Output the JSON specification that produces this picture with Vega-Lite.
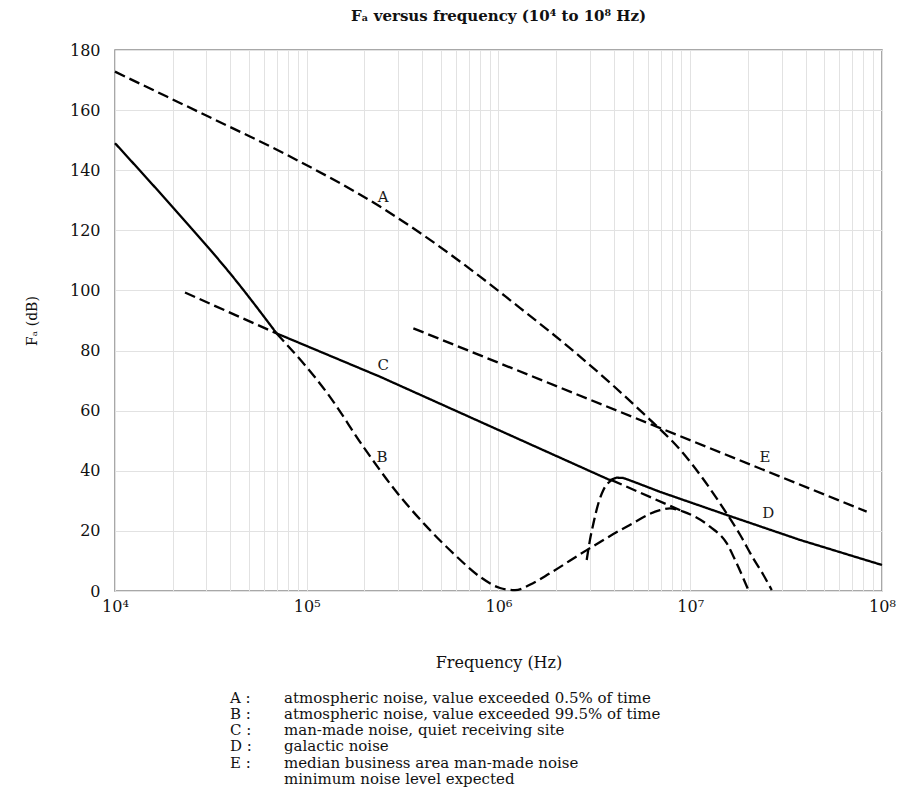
{
  "$schema": "https://vega.github.io/schema/vega-lite/v6.json",
  "width": 767,
  "height": 541,
  "autosize": {"type": "none"},
  "padding": {"left": 115, "top": 50, "right": 25, "bottom": 218},
  "background": "white",
  "config": {
    "font": "DejaVu Serif",
    "view": {"stroke": "#8c8c8c", "strokeWidth": 1.5},
    "legend": {"symbolOpacity": 0, "symbolSize": 0, "symbolStrokeWidth": 0, "labelFontSize": 15, "labelLimit": 800, "labelColor": "#111", "rowPadding": 0.3, "padding": 0, "labelOffset": 0}
  },
  "title": {"text": "Fₐ versus frequency (10⁴ to 10⁸ Hz)", "fontSize": 15, "fontWeight": "bold", "font": "DejaVu Serif", "offset": 18, "color": "#111"},
  "datasets": {
    "curves": [
      {"f": 10000, "db": 149.0, "key": "M", "seg": "M1", "style": "solid", "interp": "smooth"},
      {"f": 24604, "db": 121.2, "key": "M", "seg": "M1", "style": "solid", "interp": "smooth"},
      {"f": 39811, "db": 105.7, "key": "M", "seg": "M1", "style": "solid", "interp": "smooth"},
      {"f": 69663, "db": 85.7, "key": "M", "seg": "M1", "style": "solid", "interp": "smooth"},

      {"f": 69663, "db": 85.7, "key": "M", "seg": "M2", "style": "solid", "interp": "straight"},
      {"f": 240991, "db": 71.3, "key": "M", "seg": "M2", "style": "solid", "interp": "straight"},
      {"f": 3810978, "db": 36.9, "key": "M", "seg": "M2", "style": "solid", "interp": "straight"},
      {"f": 4130475, "db": 37.7, "key": "M", "seg": "M2", "style": "solid", "interp": "straight"},
      {"f": 4477133, "db": 37.6, "key": "M", "seg": "M2", "style": "solid", "interp": "straight"},
      {"f": 5046612, "db": 36.4, "key": "M", "seg": "M2", "style": "solid", "interp": "straight"},
      {"f": 6950243, "db": 33.0, "key": "M", "seg": "M2", "style": "solid", "interp": "straight"},
      {"f": 15488166, "db": 25.3, "key": "M", "seg": "M2", "style": "solid", "interp": "straight"},
      {"f": 37325000, "db": 17.0, "key": "M", "seg": "M2", "style": "solid", "interp": "straight"},
      {"f": 100000000, "db": 8.65, "key": "M", "seg": "M2", "style": "solid", "interp": "straight"},

      {"f": 10000, "db": 172.8, "key": "A", "seg": "A", "style": "dashed", "interp": "smooth"},
      {"f": 18621, "db": 164.5, "key": "A", "seg": "A", "style": "dashed", "interp": "smooth"},
      {"f": 31261, "db": 157.6, "key": "A", "seg": "A", "style": "dashed", "interp": "smooth"},
      {"f": 85114, "db": 144.0, "key": "A", "seg": "A", "style": "dashed", "interp": "smooth"},
      {"f": 240991, "db": 127.9, "key": "A", "seg": "A", "style": "dashed", "interp": "smooth"},
      {"f": 801678, "db": 104.6, "key": "A", "seg": "A", "style": "dashed", "interp": "smooth"},
      {"f": 1148154, "db": 96.8, "key": "A", "seg": "A", "style": "dashed", "interp": "smooth"},
      {"f": 2660725, "db": 78.0, "key": "A", "seg": "A", "style": "dashed", "interp": "smooth"},
      {"f": 3953666, "db": 68.4, "key": "A", "seg": "A", "style": "dashed", "interp": "smooth"},
      {"f": 5929253, "db": 58.0, "key": "A", "seg": "A", "style": "dashed", "interp": "smooth"},
      {"f": 8851156, "db": 47.0, "key": "A", "seg": "A", "style": "dashed", "interp": "smooth"},
      {"f": 15488166, "db": 25.8, "key": "A", "seg": "A", "style": "dashed", "interp": "smooth"},
      {"f": 18155156, "db": 18.8, "key": "A", "seg": "A", "style": "dashed", "interp": "smooth"},
      {"f": 21330000, "db": 10.8, "key": "A", "seg": "A", "style": "dashed", "interp": "smooth"},
      {"f": 24040000, "db": 5.4, "key": "A", "seg": "A", "style": "dashed", "interp": "smooth"},
      {"f": 26607250, "db": 0.3, "key": "A", "seg": "A", "style": "dashed", "interp": "smooth"},

      {"f": 69663, "db": 85.7, "key": "B", "seg": "B", "style": "dashed", "interp": "smooth"},
      {"f": 132130, "db": 64.6, "key": "B", "seg": "B", "style": "dashed", "interp": "smooth"},
      {"f": 197242, "db": 48.0, "key": "B", "seg": "B", "style": "dashed", "interp": "smooth"},
      {"f": 288403, "db": 33.6, "key": "B", "seg": "B", "style": "dashed", "interp": "smooth"},
      {"f": 414000, "db": 22.0, "key": "B", "seg": "B", "style": "dashed", "interp": "smooth"},
      {"f": 592925, "db": 12.0, "key": "B", "seg": "B", "style": "dashed", "interp": "smooth"},
      {"f": 801678, "db": 4.7, "key": "B", "seg": "B", "style": "dashed", "interp": "smooth"},
      {"f": 1018591, "db": 1.0, "key": "B", "seg": "B", "style": "dashed", "interp": "smooth"},
      {"f": 1218900, "db": 0.3, "key": "B", "seg": "B", "style": "dashed", "interp": "smooth"},
      {"f": 1513561, "db": 2.6, "key": "B", "seg": "B", "style": "dashed", "interp": "smooth"},
      {"f": 1853532, "db": 5.9, "key": "B", "seg": "B", "style": "dashed", "interp": "smooth"},
      {"f": 2884032, "db": 13.6, "key": "B", "seg": "B", "style": "dashed", "interp": "smooth"},
      {"f": 4655860, "db": 21.4, "key": "B", "seg": "B", "style": "dashed", "interp": "smooth"},
      {"f": 6950243, "db": 26.9, "key": "B", "seg": "B", "style": "dashed", "interp": "smooth"},
      {"f": 7834296, "db": 27.5, "key": "B", "seg": "B", "style": "dashed", "interp": "smooth"},
      {"f": 9204496, "db": 26.4, "key": "B", "seg": "B", "style": "dashed", "interp": "smooth"},
      {"f": 12677000, "db": 21.4, "key": "B", "seg": "B", "style": "dashed", "interp": "smooth"},
      {"f": 15488166, "db": 15.9, "key": "B", "seg": "B", "style": "dashed", "interp": "smooth"},
      {"f": 17458222, "db": 9.2, "key": "B", "seg": "B", "style": "dashed", "interp": "smooth"},
      {"f": 20090000, "db": 0.3, "key": "B", "seg": "B", "style": "dashed", "interp": "smooth"},

      {"f": 23174, "db": 99.3, "key": "C", "seg": "C1", "style": "dashed", "interp": "straight"},
      {"f": 69663, "db": 85.7, "key": "C", "seg": "C1", "style": "dashed", "interp": "straight"},
      {"f": 3890451, "db": 36.9, "key": "C", "seg": "C2", "style": "dashed", "interp": "straight"},
      {"f": 9204496, "db": 26.4, "key": "C", "seg": "C2", "style": "dashed", "interp": "straight"},

      {"f": 2884032, "db": 10.3, "key": "D", "seg": "D", "style": "dashed", "interp": "smooth"},
      {"f": 2999162, "db": 17.0, "key": "D", "seg": "D", "style": "dashed", "interp": "smooth"},
      {"f": 3126079, "db": 22.5, "key": "D", "seg": "D", "style": "dashed", "interp": "smooth"},
      {"f": 3318945, "db": 29.2, "key": "D", "seg": "D", "style": "dashed", "interp": "smooth"},
      {"f": 3523709, "db": 33.6, "key": "D", "seg": "D", "style": "dashed", "interp": "smooth"},
      {"f": 3890451, "db": 36.9, "key": "D", "seg": "D", "style": "dashed", "interp": "smooth"},

      {"f": 359749, "db": 87.4, "key": "E", "seg": "E", "style": "dashed", "interp": "straight"},
      {"f": 83176377, "db": 26.4, "key": "E", "seg": "E", "style": "dashed", "interp": "straight"}
    ],
    "labels": [
      {"f": 250600, "db": 131.2, "label": "A"},
      {"f": 247000, "db": 44.6, "label": "B"},
      {"f": 250600, "db": 75.2, "label": "C"},
      {"f": 25530000, "db": 25.8, "label": "D"},
      {"f": 24500000, "db": 44.6, "label": "E"}
    ]
  },
  "layer": [
    {
      "data": {"name": "curves"},
      "transform": [{"filter": "datum.interp == 'straight'"}],
      "mark": {"type": "line", "strokeWidth": 2.3},
      "encoding": {
        "x": {
          "field": "f", "type": "quantitative",
          "scale": {"type": "log", "domain": [10000, 100000000]},
          "axis": {
            "values": [10000,20000,30000,40000,50000,60000,70000,80000,90000,100000,200000,300000,400000,500000,600000,700000,800000,900000,1000000,2000000,3000000,4000000,5000000,6000000,7000000,8000000,9000000,10000000,20000000,30000000,40000000,50000000,60000000,70000000,80000000,90000000,100000000],
            "labelExpr": "indexof([10000,100000,1000000,10000000,100000000], datum.value) >= 0 ? '10' + ['⁴','⁵','⁶','⁷','⁸'][indexof([10000,100000,1000000,10000000,100000000], datum.value)] : ''",
            "grid": true, "gridColor": "#e2e2e2", "gridWidth": 1,
            "ticks": false, "domain": false,
            "labelFontSize": 16, "labelPadding": 7, "labelOverlap": false, "labelFlush": false, "labelColor": "#111",
            "title": "Frequency (Hz)", "titleFontSize": 16, "titleFontWeight": "normal", "titlePadding": 40, "titleColor": "#111"
          }
        },
        "y": {
          "field": "db", "type": "quantitative",
          "scale": {"domain": [0, 180]},
          "axis": {
            "values": [0,20,40,60,80,100,120,140,160,180],
            "grid": true, "gridColor": "#e2e2e2", "gridWidth": 1,
            "ticks": false, "domain": false,
            "labelFontSize": 16, "labelPadding": 15, "labelColor": "#111",
            "title": "Fₐ (dB)", "titleFontSize": 14, "titleFontWeight": "normal", "titlePadding": 30, "titleColor": "#111"
          }
        },
        "color": {
          "field": "key", "type": "nominal",
          "scale": {"domain": ["A","B","C","D","E","M"], "range": ["#000","#000","#000","#000","#000","#000"]},
          "legend": {
            "orient": "none", "legendX": 154, "legendY": 640, "title": null,
            "labelExpr": "datum.label == 'A' ? 'atmospheric noise, value exceeded 0.5% of time' : datum.label == 'B' ? 'atmospheric noise, value exceeded 99.5% of time' : datum.label == 'C' ? 'man-made noise, quiet receiving site' : datum.label == 'D' ? 'galactic noise' : datum.label == 'E' ? 'median business area man-made noise' : 'minimum noise level expected'"
          }
        },
        "strokeDash": {
          "field": "style", "type": "nominal",
          "scale": {"domain": ["solid", "dashed"], "range": [[1, 0], [11, 5]]},
          "legend": null
        },
        "detail": {"field": "seg"}
      }
    },
    {
      "data": {"name": "curves"},
      "transform": [{"filter": "datum.interp == 'smooth'"}],
      "mark": {"type": "line", "strokeWidth": 2.3, "interpolate": "monotone"},
      "encoding": {
        "x": {"field": "f", "type": "quantitative"},
        "y": {"field": "db", "type": "quantitative"},
        "color": {"field": "key", "type": "nominal"},
        "strokeDash": {"field": "style", "type": "nominal", "legend": null},
        "detail": {"field": "seg"}
      }
    },
    {
      "data": {"name": "labels"},
      "mark": {"type": "text", "fontSize": 15, "font": "DejaVu Serif", "align": "center", "baseline": "middle"},
      "encoding": {
        "x": {"field": "f", "type": "quantitative"},
        "y": {"field": "db", "type": "quantitative"},
        "text": {"field": "label"},
        "fill": {
          "field": "label", "type": "nominal",
          "scale": {"domain": ["A","B","C","D","E"], "range": ["#1a1a1a","#1a1a1a","#1a1a1a","#1a1a1a","#1a1a1a"]},
          "legend": {"orient": "none", "legendX": 100, "legendY": 640, "title": null, "labelExpr": "datum.label + ' :'"}
        }
      }
    }
  ]
}
